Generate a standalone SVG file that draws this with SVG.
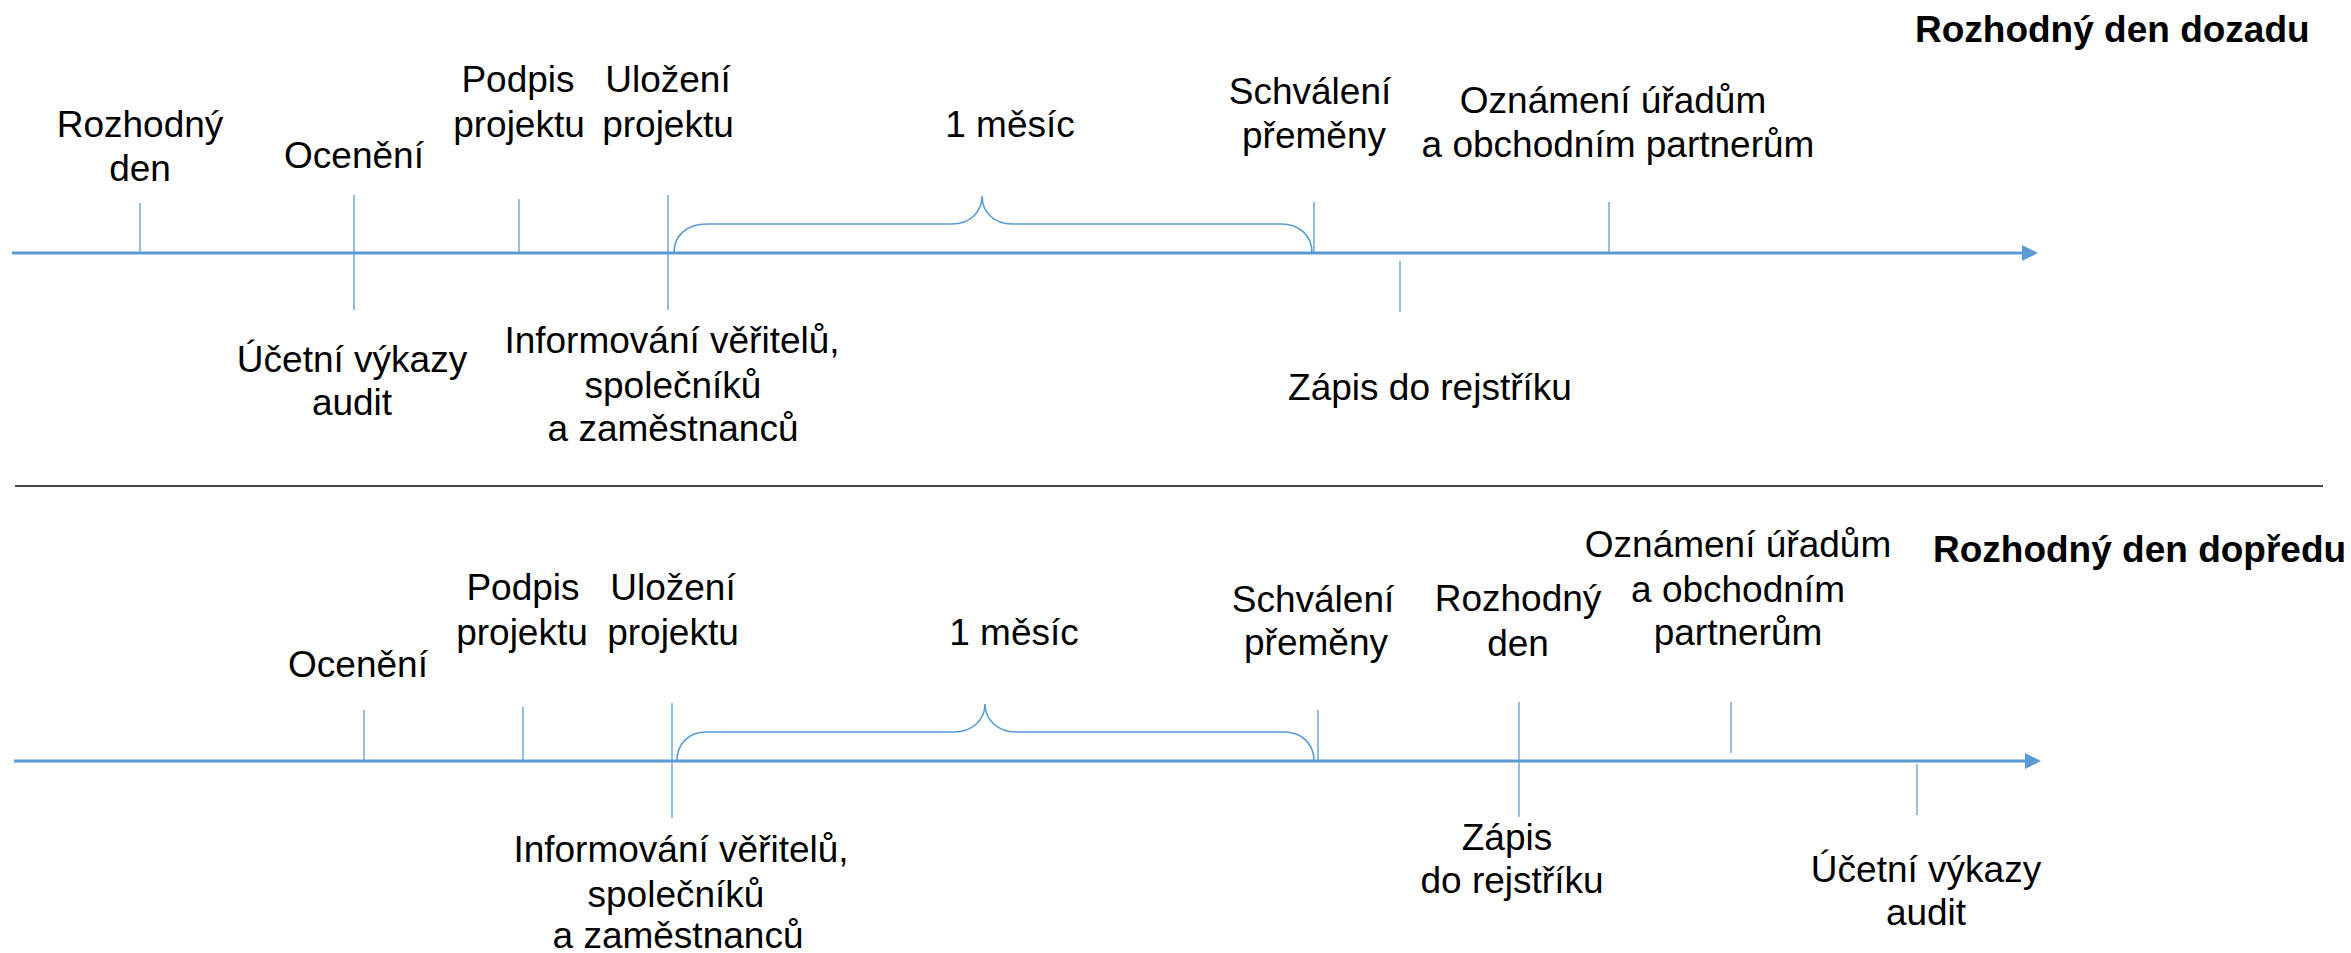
<svg xmlns="http://www.w3.org/2000/svg" width="2351" height="953" viewBox="0 0 2351 953">
<style>
.t{font-family:"Liberation Sans",Arial,sans-serif;font-size:37px;fill:#000;text-anchor:middle}
.b{font-family:"Liberation Sans",Arial,sans-serif;font-size:37px;font-weight:bold;fill:#000}
.axis{stroke:#5B9BD5;stroke-width:3.2;fill:none}
.tick{stroke:#5B9BD5;stroke-width:1.3;fill:none}
.brace{stroke:#5B9BD5;stroke-width:1.6;fill:none}
.arrow{fill:#5B9BD5}
</style>
<rect width="2351" height="953" fill="#fff"/>
<g id="connectors">
  <line class="axis" x1="12" y1="253" x2="2024" y2="253"/>
  <polygon class="arrow" points="2022,245 2038,253 2022,261"/>
  <line class="axis" x1="14" y1="761" x2="2028" y2="761"/>
  <polygon class="arrow" points="2025,753 2041,761 2025,769"/>
  <line x1="15" y1="486" x2="2323" y2="486" stroke="#474747" stroke-width="2"/>
  <path class="brace" d="M 674 253 C 674 236 686 224 707 224 L 952 224 C 970 224 982 212 982 196 C 982 212 994 224 1012 224 L 1281 224 C 1300 224 1312 236 1312 253"/>
  <path class="brace" d="M 677 761 C 677 744 688 732 707 732 L 954 732 C 972 732 985 720 985 704 C 985 720 998 732 1016 732 L 1284 732 C 1302 732 1314 744 1314 761"/>
</g>
<g id="title-top"><text class="b" x="1915" y="42">Rozhodný den dozadu</text></g>
<g id="title-bottom"><text class="b" x="1933" y="562">Rozhodný den dopředu</text></g>

<g id="t1-rozhodny">
  <line class="tick" x1="140" y1="203" x2="140" y2="253"/>
  <text class="t" x="140" y="137">Rozhodný</text>
  <text class="t" x="140" y="181">den</text>
</g>
<g id="t1-oceneni">
  <line class="tick" x1="354" y1="195" x2="354" y2="310"/>
  <text class="t" x="354" y="168">Ocenění</text>
  <text class="t" x="352" y="372">Účetní výkazy</text>
  <text class="t" x="352" y="415">audit</text>
</g>
<g id="t1-podpis">
  <line class="tick" x1="519" y1="199" x2="519" y2="253"/>
  <text class="t" x="518" y="92">Podpis</text>
  <text class="t" x="519" y="137">projektu</text>
</g>
<g id="t1-ulozeni">
  <line class="tick" x1="668" y1="195" x2="668" y2="310"/>
  <text class="t" x="668" y="92">Uložení</text>
  <text class="t" x="668" y="137">projektu</text>
  <text class="t" x="672" y="353">Informování věřitelů,</text>
  <text class="t" x="673" y="398">společníků</text>
  <text class="t" x="673" y="441">a zaměstnanců</text>
</g>
<g id="t1-mesic"><text class="t" x="1010" y="137">1 měsíc</text></g>
<g id="t1-schvaleni">
  <line class="tick" x1="1314" y1="202" x2="1314" y2="253"/>
  <text class="t" x="1310" y="104">Schválení</text>
  <text class="t" x="1314" y="148">přeměny</text>
</g>
<g id="t1-zapis">
  <line class="tick" x1="1400" y1="261" x2="1400" y2="312"/>
  <text class="t" x="1430" y="400">Zápis do rejstříku</text>
</g>
<g id="t1-oznameni">
  <line class="tick" x1="1609" y1="202" x2="1609" y2="253"/>
  <text class="t" x="1613" y="113">Oznámení úřadům</text>
  <text class="t" x="1618" y="157">a obchodním partnerům</text>
</g>

<g id="t2-oceneni">
  <line class="tick" x1="364" y1="710" x2="364" y2="761"/>
  <text class="t" x="358" y="677">Ocenění</text>
</g>
<g id="t2-podpis">
  <line class="tick" x1="523" y1="707" x2="523" y2="761"/>
  <text class="t" x="523" y="600">Podpis</text>
  <text class="t" x="522" y="645">projektu</text>
</g>
<g id="t2-ulozeni">
  <line class="tick" x1="672" y1="703" x2="672" y2="818"/>
  <text class="t" x="673" y="600">Uložení</text>
  <text class="t" x="673" y="645">projektu</text>
  <text class="t" x="681" y="862">Informování věřitelů,</text>
  <text class="t" x="676" y="907">společníků</text>
  <text class="t" x="678" y="948">a zaměstnanců</text>
</g>
<g id="t2-mesic"><text class="t" x="1014" y="645">1 měsíc</text></g>
<g id="t2-schvaleni">
  <line class="tick" x1="1318" y1="710" x2="1318" y2="761"/>
  <text class="t" x="1313" y="612">Schválení</text>
  <text class="t" x="1316" y="655">přeměny</text>
</g>
<g id="t2-rozhodny">
  <line class="tick" x1="1519" y1="702" x2="1519" y2="817"/>
  <text class="t" x="1518" y="611">Rozhodný</text>
  <text class="t" x="1518" y="656">den</text>
  <text class="t" x="1507" y="850">Zápis</text>
  <text class="t" x="1512" y="893">do rejstříku</text>
</g>
<g id="t2-oznameni">
  <line class="tick" x1="1731" y1="702" x2="1731" y2="753"/>
  <text class="t" x="1738" y="557">Oznámení úřadům</text>
  <text class="t" x="1738" y="602">a obchodním</text>
  <text class="t" x="1738" y="645">partnerům</text>
</g>
<g id="t2-ucetni">
  <line class="tick" x1="1917" y1="764" x2="1917" y2="815"/>
  <text class="t" x="1926" y="882">Účetní výkazy</text>
  <text class="t" x="1926" y="925">audit</text>
</g>
</svg>
